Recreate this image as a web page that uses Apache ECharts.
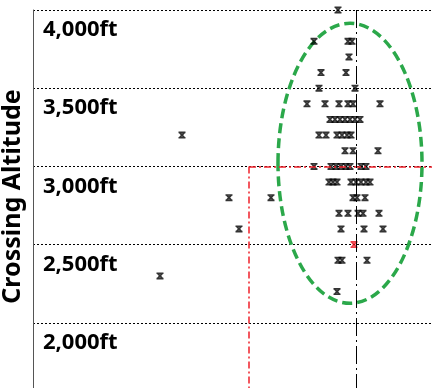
<!DOCTYPE html>
<html>
<head>
<meta charset="utf-8">
<script src="https://cdn.jsdelivr.net/npm/echarts@6/dist/echarts.min.js"></script>
<style>html,body{margin:0;padding:0;background:#fff}#c{width:432px;height:388px}</style>
</head>
<body>
<div id="c"></div>
<script>
// Y axis ticks (ft) and their labels
var yTicks = [2000, 2500, 3000, 3500, 4000];
var yTickLabels = ['2,000ft', '2,500ft', '3,000ft', '3,500ft', '4,000ft'];

// Crossing points: horizontal position (arbitrary units) and crossing altitude (ft)
var crossX = [
  149, 196, 238, 206, 127,
  305,
  281, 315, 319,
  316,
  288, 313,
  286, 322,
  274, 292, 306, 315, 320, 347,
  297, 302, 307, 312, 317, 322, 327,
  286, 293, 304, 309, 314, 318,
  312, 320, 345,
  281, 298, 303, 308, 313, 317, 328, 333,
  296, 300, 304, 318, 323, 328, 333, 337,
  320, 324, 332,
  306, 315, 325, 330, 346,
  308, 331, 350,
  305, 309, 334,
  304
];
var crossAlt = [
  3200, 2800, 2800, 2600, 2300,
  4000,
  3800, 3800, 3800,
  3700,
  3600, 3600,
  3500, 3500,
  3400, 3400, 3400, 3400, 3400, 3400,
  3300, 3300, 3300, 3300, 3300, 3300, 3300,
  3200, 3200, 3200, 3200, 3200, 3200,
  3100, 3100, 3100,
  3000, 3000, 3000, 3000, 3000, 3000, 3000, 3000,
  2900, 2900, 2900, 2900, 2900, 2900, 2900, 2900,
  2800, 2800, 2800,
  2700, 2700, 2700, 2700, 2700,
  2600, 2600, 2600,
  2400, 2400, 2400,
  2200
];
// Highlighted (red) point
var redX = [321];
var redAlt = [2500];

// Reference lines
var refX = 323;          // black dash-dot vertical
var limitX = 216;        // red dash-dot vertical
var limitAlt = 3000;     // red dash-dot horizontal
// Ellipse: center x, center alt, radius x, radius alt
var ellipseParams = [317, 3020, 72, 895];

var xMin = 0, xMax = 399, yMin = 1500, yMax = 4000;

var pts = crossX.map(function (x, i) { return [x, crossAlt[i]]; });
var redPts = redX.map(function (x, i) { return [x, redAlt[i]]; });

var hourglass = 'path://M0,0L10,0L10,2.3L0,2.3Z M0,7.7L10,7.7L10,10L0,10Z M0.8,2.3L4.3,2.3L9.2,7.7L5.7,7.7Z M5.7,2.3L9.2,2.3L4.3,7.7L0.8,7.7Z';

var chart = echarts.init(document.getElementById('c'), null, {renderer: 'canvas'});
chart.setOption({
  animation: false,
  grid: {left: 33, top: 10, width: 399, height: 391, outerBoundsMode: 'none', containLabel: false},
  xAxis: {type: 'value', min: xMin, max: xMax, show: false},
  yAxis: {
    type: 'value', min: yMin, max: yMax, interval: 500,
    name: 'Crossing Altitude', nameLocation: 'middle', nameRotate: 90, nameGap: 4,
    nameTextStyle: {fontFamily: 'Noto Sans', fontWeight: 'bold', fontSize: 25, color: '#000', padding: [0, 0, 0, 18]},
    axisLine: {show: true, lineStyle: {color: '#555', width: 1}},
    axisTick: {show: false},
    axisLabel: {
      inside: true, margin: 10, align: 'left', verticalAlign: 'top', padding: [9, 0, 0, 0],
      fontFamily: 'Noto Sans', fontWeight: 'bold', fontSize: 22, color: '#000',
      formatter: function (v) { var i = yTicks.indexOf(v); return i < 0 ? '' : yTickLabels[i]; }
    },
    splitLine: {show: true, lineStyle: {color: '#000', width: 1, type: [2, 2]}}
  },
  series: [
    {
      type: 'custom',
      data: [ellipseParams],
      silent: true,
      z: 1,
      renderItem: function (params, api) {
        var c = api.coord([api.value(0), api.value(1)]);
        var s = api.size([api.value(2), api.value(3)]);
        return {
          type: 'ellipse',
          shape: {cx: c[0], cy: c[1], rx: s[0], ry: s[1]},
          style: {fill: null, stroke: '#2BA84A', lineWidth: 3.5, lineDash: [10, 5]}
        };
      }
    },
    {
      type: 'scatter',
      data: pts,
      symbol: hourglass,
      symbolSize: [7, 7],
      itemStyle: {color: '#000'},
      z: 3,
      markLine: {
        silent: true, symbol: 'none', animation: false,
        label: {show: false},
        lineStyle: {color: '#F0202A', width: 1.5, type: [7, 3, 2, 3], opacity: 1},
        data: [
          [{coord: [limitX, limitAlt]}, {coord: [xMax, limitAlt]}],
          [{coord: [limitX, limitAlt]}, {coord: [limitX, yMin]}]
        ]
      }
    },
    {
      type: 'scatter',
      data: redPts,
      symbol: hourglass,
      symbolSize: [7, 7],
      itemStyle: {color: '#E8101A'},
      z: 4,
      markLine: {
        silent: true, symbol: 'none', animation: false,
        label: {show: false},
        lineStyle: {color: '#000', width: 1, type: [18, 4, 2, 4], opacity: 1},
        data: [
          [{coord: [refX, yMax]}, {coord: [refX, yMin]}]
        ]
      }
    }
  ]
});
</script>
</body>
</html>
